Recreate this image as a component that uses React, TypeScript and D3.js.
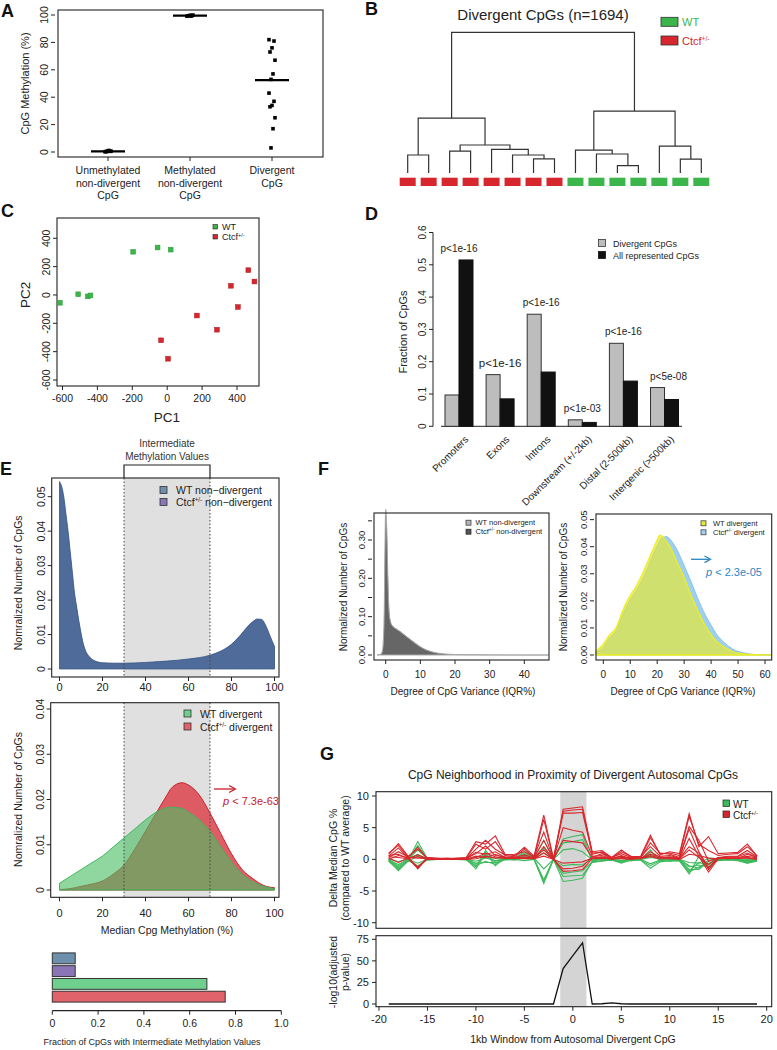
import React from "react";
import * as d3 from "d3";

const FONT = "'Liberation Sans', Arial, Helvetica, sans-serif";
const INK = "#222";

// ---------------- Panel A data ----------------
const aCategories = ["unmethylated", "methylated", "divergent"];
const aCategoryLabels = [
  ["Unmethylated", "non-divergent", "CpG"],
  ["Methylated", "non-divergent", "CpG"],
  ["Divergent", "CpG"],
];
const aUnmethylated = [0.2, 0.5, 0.9, 0.3, 0.6, 1.1, 0.4];
const aMethylated = [99.1, 99.6, 99.8, 99.4, 99.9, 99.2];
const aDivergent = [82, 81, 76, 73, 67, 57, 53, 43, 37, 34, 33, 25, 17, 3];
const aMedians = [0.4, 99.6, 52.5];
const aYTicks = [0, 20, 40, 60, 80, 100];

// ---------------- Panel B data ----------------
const bLeafGroups = ["Ctcf", "Ctcf", "Ctcf", "Ctcf", "Ctcf", "Ctcf", "Ctcf", "Ctcf", "WT", "WT", "WT", "WT", "WT", "WT", "WT"];
type TNode = { h: number; c: (TNode | number)[] };
const bTree: TNode = {
  h: 1.0,
  c: [
    {
      h: 0.39,
      c: [
        { h: 0.128, c: [0, 1] },
        {
          h: 0.199,
          c: [
            { h: 0.156, c: [2, 3] },
            { h: 0.168, c: [4, { h: 0.128, c: [5, { h: 0.101, c: [6, 7] }] }] },
          ],
        },
      ],
    },
    {
      h: 0.44,
      c: [
        { h: 0.163, c: [8, { h: 0.135, c: [9, { h: 0.052, c: [10, 11] }] }] },
        { h: 0.191, c: [12, { h: 0.099, c: [13, 14] }] },
      ],
    },
  ],
};

// ---------------- Panel C data ----------------
const cWT = [[-615, -55], [-510, 5], [-455, -10], [-440, -3], [-195, 305], [-55, 335], [20, 320]];
const cCtcf = [[-35, -320], [5, -450], [170, -145], [285, -245], [365, 65], [405, -85], [465, 175], [500, 95]];
const cXTicks = [-600, -400, -200, 0, 200, 400];
const cYTicks = [-600, -400, -200, 0, 200, 400];

// ---------------- Panel D data ----------------
const dCategories = ["Promoters", "Exons", "Introns", "Downstream (+/-2kb)", "Distal (2-500kb)", "Intergenic (>500kb)"];
const dDivergent = [0.097, 0.16, 0.347, 0.02, 0.257, 0.12];
const dAll = [0.515, 0.085, 0.168, 0.012, 0.14, 0.083];
const dPValues = ["p<1e-16", "p<1e-16", "p<1e-16", "p<1e-03", "p<1e-16", "p<5e-08"];
const dYTicks = [0, 0.1, 0.2, 0.3, 0.4, 0.5, 0.6];

// ---------------- Panel E data ----------------
const eTopX = [0, 1, 2, 3, 4, 5, 6, 7, 8, 9, 10, 11, 12, 14, 16, 18, 20, 25, 30, 40, 50, 60, 70, 75, 80, 84, 87, 90, 92, 94, 96, 98, 100];
const eWTNonDiv = [0.0544, 0.053, 0.05, 0.045, 0.04, 0.034, 0.028, 0.022, 0.018, 0.014, 0.0105, 0.0075, 0.0055, 0.0035, 0.0025, 0.002, 0.0018, 0.0017, 0.0017, 0.0019, 0.0023, 0.0029, 0.004, 0.0052, 0.0072, 0.0097, 0.012, 0.0138, 0.0145, 0.0144, 0.0125, 0.0095, 0.0065];
const eCtcfNonDiv = [0.0542, 0.0528, 0.0498, 0.0448, 0.0398, 0.0338, 0.0279, 0.0219, 0.0179, 0.0139, 0.0104, 0.0075, 0.0055, 0.0035, 0.0025, 0.002, 0.0018, 0.0017, 0.0017, 0.0019, 0.0023, 0.0029, 0.004, 0.0052, 0.0072, 0.0097, 0.012, 0.0138, 0.0145, 0.0144, 0.0125, 0.0095, 0.0065];
const eBotX = [0, 5, 10, 15, 20, 25, 30, 35, 40, 45, 50, 52, 57, 60, 65, 70, 75, 80, 85, 90, 95, 100];
const eWTDiv = [0.0015, 0.003, 0.0045, 0.006, 0.0075, 0.0095, 0.0115, 0.0135, 0.0155, 0.0172, 0.0182, 0.0183, 0.018, 0.0172, 0.0155, 0.013, 0.0095, 0.0062, 0.0035, 0.0018, 0.0008, 0.0003];
const eCtcfDiv = [0.0001, 0.0003, 0.0008, 0.0013, 0.002, 0.0035, 0.0055, 0.009, 0.013, 0.017, 0.021, 0.0225, 0.0237, 0.0232, 0.021, 0.017, 0.0125, 0.008, 0.0045, 0.0025, 0.001, 0.0005];
const eXTicks = [0, 20, 40, 60, 80, 100];
const eTopYTicks = [0, 0.01, 0.02, 0.03, 0.04, 0.05];
const eBotYTicks = [0, 0.01, 0.02, 0.03, 0.04];
const eBarLabels = ["WT non-divergent", "Ctcf non-divergent", "WT divergent", "Ctcf divergent"];
const eBarValues = [0.1, 0.1, 0.675, 0.755];
const eBarTicks = [0, 0.2, 0.4, 0.6, 0.8, 1.0];

// ---------------- Panel F data ----------------
const fLeftX = [-2.5, -1.5, -1, -0.5, 0, 0.3, 0.7, 1, 1.5, 2, 3, 4, 5, 6, 7, 8, 10, 12, 14, 16, 18, 20, 25, 30, 35, 40, 47];
const fWTNonDiv = [0, 0.002, 0.01, 0.08, 0.38, 0.33, 0.18, 0.11, 0.083, 0.075, 0.068, 0.062, 0.055, 0.048, 0.041, 0.034, 0.021, 0.012, 0.0065, 0.0038, 0.002, 0.0012, 0.0005, 0.0002, 0.0001, 0, 0];
const fCtcfNonDiv = [0, 0.001, 0.005, 0.05, 0.37, 0.34, 0.2, 0.12, 0.085, 0.076, 0.069, 0.063, 0.056, 0.049, 0.042, 0.035, 0.022, 0.013, 0.007, 0.004, 0.0022, 0.0013, 0.0005, 0.0002, 0.0001, 0, 0];
const fRightX = [-2.7, 0, 2, 5, 7, 10, 12, 15, 18, 20, 21, 22, 23.5, 25, 27, 30, 33, 35, 38, 40, 42, 45, 48, 52, 56, 62.5];
const fWTDiv = [0.0015, 0.004, 0.007, 0.0105, 0.016, 0.022, 0.025, 0.031, 0.038, 0.0425, 0.0443, 0.0438, 0.0418, 0.0395, 0.035, 0.0285, 0.021, 0.0165, 0.0105, 0.0075, 0.005, 0.0028, 0.0012, 0.0004, 0.0001, 0];
const fCtcfDiv = [0.001, 0.003, 0.006, 0.0095, 0.0145, 0.0205, 0.0235, 0.029, 0.036, 0.0405, 0.0425, 0.0435, 0.0437, 0.0425, 0.0395, 0.033, 0.026, 0.021, 0.0145, 0.011, 0.0077, 0.0045, 0.0022, 0.0008, 0.0002, 0];
const fLeftXTicks = [0, 10, 20, 30, 40];
const fLeftYTicks = [0, 0.05, 0.1, 0.15, 0.2, 0.25, 0.3, 0.35];
const fLeftYLabels = [0, 0.1, 0.2, 0.3];
const fRightXTicks = [0, 10, 20, 30, 40, 50, 60];
const fRightYTicks = [0, 0.01, 0.02, 0.03, 0.04, 0.05];

// ---------------- Panel G data ----------------
const gWindows = [-19, -18, -17, -16, -15, -14, -13, -12, -11, -10, -9, -8, -7, -6, -5, -4, -3, -2, -1, 0, 1, 2, 3, 4, 5, 6, 7, 8, 9, 10, 11, 12, 13, 14, 15, 16, 17, 18, 19];
const gCtcfLines = [
  [0.8, 2.5, 0.5, 1.6, 0.2, 0.1, 0.1, 0.2, 0.3, 2.8, 2.4, 3.7, 0.8, 0.6, 1.9, 0.5, 7.0, 0.1, 7.9, 8.1, 8.3, 1.2, 1.4, 0.3, 1.5, 0.4, 0.5, 3.8, 0.7, 1.2, 0.9, 7.2, 2.0, 3.6, 0.9, 1.0, 1.1, 2.4, 0.5],
  [1.0, 2.2, 0.3, 1.9, 0.1, 0.1, 0.2, 0.1, 0.2, 2.4, 1.6, 2.8, 0.6, 0.4, 1.6, 0.3, 6.3, 0.0, 7.6, 7.8, 7.9, 1.0, 1.1, 0.2, 1.2, 0.5, 0.3, 3.4, 0.9, 1.0, 0.6, 6.8, 2.4, 1.4, 0.6, 0.8, 0.9, 2.0, 0.6],
  [0.5, 1.8, 0.2, -1.2, 0.2, 0.1, 0.0, 0.1, 0.1, 1.6, 3.0, 1.6, 0.7, 0.8, 1.2, 0.4, 4.3, 0.0, 7.3, 7.3, 7.4, 0.8, 1.2, 0.3, 0.9, 0.3, 0.2, 2.6, 1.0, 0.8, 0.3, 5.2, 3.0, -0.3, 0.3, 0.5, 0.5, 1.4, 0.4],
  [0.3, 1.2, 0.4, -1.5, 0.3, 0.2, 0.1, 0.1, 0.2, 0.9, 2.1, 0.6, 0.4, 0.3, 0.7, 0.2, 3.0, 0.0, 5.0, 4.6, 4.3, 0.5, 0.6, 0.1, 0.5, 0.1, 0.4, 2.0, 0.5, 0.6, 0.2, 4.8, 1.2, -1.3, 0.2, 0.4, 0.4, 1.0, 0.3],
  [0.6, 0.8, 0.1, 0.7, 0.1, 0.1, 0.0, 0.0, 0.1, 1.1, 0.8, 1.2, 0.3, 0.2, 0.4, 0.1, 2.0, 0.0, 3.0, 2.8, 2.6, 0.3, 0.9, 0.2, 0.2, 0.2, 0.1, 1.2, 0.3, 0.4, 0.1, 3.3, 0.5, -2.0, 0.1, 0.2, 0.3, 0.5, 0.2],
  [0.2, -0.5, 0.2, 0.4, 0.0, 0.0, 0.0, 0.1, 0.0, 0.5, 0.3, 0.8, 0.2, 0.1, 0.3, 0.1, 1.0, 0.0, -0.6, -0.5, -0.4, 0.2, 0.4, 0.1, 0.6, 0.1, 0.2, 0.6, 0.2, 0.3, 0.2, 2.0, 1.0, -1.6, 0.2, 0.1, 0.2, 0.3, 0.1],
  [0.4, 0.3, 0.1, -1.4, 0.1, 0.0, 0.1, 0.0, 0.1, 0.3, 1.0, 0.4, 0.1, 0.3, 0.2, 0.2, 1.5, 0.0, -1.5, -1.4, -1.1, 0.4, 0.3, 0.0, 0.3, 0.3, 0.1, 0.8, 0.4, 0.2, 0.1, 1.5, 0.3, -0.8, 0.3, 0.3, 0.1, 0.8, 0.3],
  [0.0, 0.6, 0.3, 0.2, 0.2, 0.1, 0.1, 0.1, 0.0, 0.1, 0.5, 0.2, 0.3, 0.2, 0.1, 0.1, 0.5, 0.0, -1.9, -1.8, -1.6, 0.1, 0.2, 0.1, 0.1, 0.0, 0.2, 0.4, 0.1, 0.1, 0.0, 0.8, 0.6, 0.2, 0.1, 0.2, 0.2, 0.2, 0.0],
];
const gWTLines = [
  [-0.2, -1.8, -0.2, 2.8, 0.1, 0.0, 0.0, 0.1, 0.0, -1.5, 1.0, -1.0, 0.3, 0.1, 1.3, 0.3, 3.0, 0.0, 3.2, 3.6, 3.9, -0.3, 0.2, -0.1, 0.3, -0.2, 0.0, 1.5, -0.3, 0.2, -0.2, -2.3, 0.5, -1.5, 0.3, 0.0, 0.1, -0.5, -0.2],
  [-0.1, -1.4, -0.1, 2.2, 0.0, 0.0, 0.1, 0.0, 0.1, -1.2, 1.4, -0.6, 0.2, 0.2, 1.0, 0.2, 1.8, 0.0, 2.6, 2.8, 3.1, -0.2, 0.3, 0.0, -0.2, 0.0, 0.1, 0.9, -0.1, 0.1, -0.1, -1.8, -0.5, -0.9, 0.2, -0.1, 0.1, -0.3, -0.1],
  [0.0, -1.0, 0.0, 1.5, 0.1, 0.1, 0.0, 0.0, 0.0, -0.8, 0.5, -0.3, 0.1, 0.0, 0.6, 0.1, 1.0, 0.0, 1.5, 1.7, 1.2, -0.1, 0.1, 0.0, -0.5, 0.1, 0.0, 0.5, 0.0, 0.0, 0.0, -1.2, -0.9, -1.2, 0.1, 0.0, 0.0, -0.2, 0.0],
  [-0.3, -1.6, -0.3, 0.5, -0.1, 0.0, 0.0, 0.0, -0.1, -1.0, -0.3, -0.8, 0.0, -0.1, 0.2, 0.0, -3.5, 0.0, -2.2, -2.0, -1.8, -0.4, -0.2, -0.1, -0.3, -0.2, -0.1, -1.4, -0.4, -0.2, -0.3, -2.0, -1.2, -0.6, -0.2, -0.1, -0.2, -0.6, -0.3],
  [-0.2, -1.2, -0.2, -1.0, -0.1, 0.0, 0.0, 0.0, 0.0, -0.6, -0.5, -0.5, -0.1, 0.0, -0.2, 0.0, -3.8, 0.0, -2.7, -2.6, -2.5, -0.5, -0.3, -0.1, -0.6, -0.1, -0.1, -1.0, -0.2, -0.3, -0.1, -1.6, -1.6, -0.3, -0.1, 0.0, -0.1, -0.4, -0.2],
  [-0.1, -0.8, 0.0, -0.6, 0.0, 0.0, 0.0, 0.0, 0.0, -0.3, 0.2, -0.2, 0.1, 0.0, 0.4, 0.1, -3.2, 0.0, -3.5, -3.3, -3.0, -0.3, 0.0, 0.0, -0.4, 0.0, 0.0, -0.7, -0.1, -0.1, 0.0, -1.0, -1.4, -0.1, 0.0, 0.1, 0.0, -0.6, -0.1],
  [0.1, -0.4, 0.1, 0.8, 0.0, 0.0, 0.0, 0.0, 0.0, 0.3, 0.6, 0.2, 0.2, 0.1, 0.8, 0.2, -1.5, 0.0, -1.0, -0.8, -0.9, 0.1, 0.2, 0.0, 0.1, 0.1, 0.0, 0.3, 0.1, 0.1, 0.0, -0.5, -0.6, 0.2, 0.1, 0.1, 0.1, 0.0, 0.1],
];
const gPValue = [0, 0, 0, 0, 0, 0, 0, 0, 0, 0, 0, 0, 0, 0, 0, 0, 0, 0, 41, 56, 71, 0, 0.3, 1.2, 0.3, 0, 0, 0, 0, 0, 0, 0, 0, 0, 0, 0, 0, 0, 0];
const gBand = [-1.3, 1.4];
const gXTicks = [-20, -15, -10, -5, 0, 5, 10, 15, 20];
const gTopYTicks = [-10, -5, 0, 5, 10];
const gBotYTicks = [0, 25, 50, 75];

// ---------------- helpers ----------------
type LS = d3.ScaleLinear<number, number>;

function CtcfText({ fs, suffix = "" }: { fs: number; suffix?: string }) {
  const s = fs * 0.38;
  return (
    <>
      Ctcf
      <tspan dy={-s} fontSize={fs * 0.6}>+/-</tspan>
      <tspan dy={s}>{suffix}</tspan>
    </>
  );
}

function LeftAxis({ scale, ticks, labels, x, fs = 10, len = 4, gap = 3, rotate = true, fmt }: {
  scale: LS; ticks: number[]; labels?: number[]; x: number; fs?: number; len?: number; gap?: number; rotate?: boolean; fmt?: (v: number) => string;
}) {
  const lab = labels ?? ticks;
  const f = fmt ?? ((v: number) => String(v));
  return (
    <g>
      {ticks.map((t, i) => (
        <line key={"t" + i} x1={x} x2={x - len} y1={scale(t)} y2={scale(t)} stroke={INK} strokeWidth={1} />
      ))}
      {lab.map((t, i) =>
        rotate ? (
          <text key={"l" + i} transform={`translate(${x - len - gap},${scale(t)}) rotate(-90)`} textAnchor="middle" fontSize={fs} fill={INK}>
            {f(t)}
          </text>
        ) : (
          <text key={"l" + i} x={x - len - gap} y={scale(t)} dy="0.35em" textAnchor="end" fontSize={fs} fill={INK}>
            {f(t)}
          </text>
        )
      )}
    </g>
  );
}

function BottomAxis({ scale, ticks, y, fs = 10, len = 4, labelY, fmt }: {
  scale: LS; ticks: number[]; y: number; fs?: number; len?: number; labelY: number; fmt?: (v: number) => string;
}) {
  const f = fmt ?? ((v: number) => String(v));
  return (
    <g>
      {ticks.map((t, i) => (
        <g key={i}>
          <line x1={scale(t)} x2={scale(t)} y1={y} y2={y + len} stroke={INK} strokeWidth={1} />
          <text x={scale(t)} y={labelY} textAnchor="middle" fontSize={fs} fill={INK}>{f(t)}</text>
        </g>
      ))}
    </g>
  );
}

function areaPath(xs: number[], ys: number[], x: LS, y: LS) {
  const pts = xs.map((v, i) => [v, ys[i]] as [number, number]);
  return (
    d3
      .area<[number, number]>()
      .x((d) => x(d[0]))
      .y0(y(0))
      .y1((d) => y(d[1]))
      .curve(d3.curveMonotoneX)(pts) || ""
  );
}

function Box({ l, r, t, b }: { l: number; r: number; t: number; b: number }) {
  return <rect x={l} y={t} width={r - l} height={b - t} fill="none" stroke={INK} strokeWidth={1.1} />;
}

function Label({ x, y, ch }: { x: number; y: number; ch: string }) {
  return (
    <text x={x} y={y} fontSize={18} fontWeight="bold" fill="#111">
      {ch}
    </text>
  );
}

// ---------------- Panels ----------------
function PanelA() {
  const box = { l: 58, r: 323, t: 10, b: 157 };
  const x = d3.scalePoint<string>().domain(aCategories).range([108, 272]);
  const y = d3.scaleLinear().domain([0, 100]).range([152, 15]);
  const groups = [aUnmethylated, aMethylated, aDivergent];
  const jit = (i: number) => ((i * 5) % 7) - 3;
  return (
    <g>
      <Label x={1} y={17} ch="A" />
      <Box {...box} />
      <LeftAxis scale={y} ticks={aYTicks} x={box.l - 3} fs={10.5} gap={3.5} />
      <text transform={`translate(29,${(y(0) + y(100)) / 2}) rotate(-90)`} textAnchor="middle" fontSize={11} fill={INK}>
        CpG Methylation (%)
      </text>
      {aCategories.map((c, ci) => (
        <g key={c}>
          <line x1={x(c)!} x2={x(c)!} y1={box.b} y2={box.b + 4} stroke={INK} />
          {aCategoryLabels[ci].map((ln, li) => (
            <text key={li} x={x(c)!} y={174 + li * 12.5} textAnchor="middle" fontSize={10.5} fill={INK}>
              {ln}
            </text>
          ))}
          {groups[ci].map((v, i) => (
            <rect key={i} x={x(c)! + jit(i) - 1.8} y={y(v) - 1.8} width={3.6} height={3.6} fill="#000" />
          ))}
          <line x1={x(c)! - 17} x2={x(c)! + 17} y1={y(aMedians[ci])} y2={y(aMedians[ci])} stroke="#000" strokeWidth={2.2} />
        </g>
      ))}
    </g>
  );
}

function PanelB() {
  const xs = d3.scalePoint<number>().domain(bLeafGroups.map((_, i) => i)).range([407.7, 701.3]);
  const hy = d3.scaleLinear().domain([0, 1]).range([173, 32.3]);
  const segs: string[] = [];
  const layout = (n: TNode | number): { x: number; y: number } => {
    if (typeof n === "number") return { x: xs(n)!, y: hy(0) };
    const k = n.c.map(layout);
    const yy = hy(n.h);
    segs.push(`M${k[0].x},${k[0].y}V${yy}H${k[1].x}V${k[1].y}`);
    return { x: (k[0].x + k[1].x) / 2, y: yy };
  };
  layout(bTree);
  const col = (g: string) => (g === "WT" ? "#3cb54a" : "#d7262e");
  return (
    <g>
      <Label x={365} y={15} ch="B" />
      <text x={543} y={20} textAnchor="middle" fontSize={15} fill="#222">Divergent CpGs (n=1694)</text>
      {segs.map((d, i) => (
        <path key={i} d={d} fill="none" stroke="#333" strokeWidth={1.2} />
      ))}
      {bLeafGroups.map((g, i) => (
        <rect key={i} x={xs(i)! - 8} y={177.7} width={16} height={8.3} fill={col(g)} />
      ))}
      <rect x={661} y={17.3} width={17} height={9} fill="#3cb54a" stroke="#333" strokeWidth={0.8} />
      <text x={682} y={26} fontSize={11} fill="#3cb54a">WT</text>
      <rect x={661} y={36} width={17} height={9} fill="#d7262e" stroke="#333" strokeWidth={0.8} />
      <text x={682} y={45} fontSize={11} fill="#d7262e"><CtcfText fs={11} /></text>
    </g>
  );
}

function PanelC() {
  const box = { l: 57, r: 259, t: 218, b: 386 };
  const x = d3.scaleLinear().domain([-600, 400]).range([62.5, 237]);
  const y = d3.scaleLinear().domain([-600, 400]).range([380, 238.3]);
  return (
    <g>
      <Label x={1} y={217} ch="C" />
      <Box {...box} />
      <LeftAxis scale={y} ticks={cYTicks} x={box.l} fs={10.5} gap={3.5} />
      <BottomAxis scale={x} ticks={cXTicks} y={box.b} labelY={401.5} fs={10.5} />
      <text x={167} y={422} textAnchor="middle" fontSize={13.5} fill={INK}>PC1</text>
      <text transform={`translate(30,${y(0)}) rotate(-90)`} textAnchor="middle" fontSize={13.5} fill={INK}>PC2</text>
      {cWT.map((p, i) => (
        <rect key={"w" + i} x={x(p[0]) - 2.4} y={y(p[1]) - 2.4} width={4.8} height={4.8} fill="#3cb54a" stroke="#2a9a3a" strokeWidth={0.5} />
      ))}
      {cCtcf.map((p, i) => (
        <rect key={"c" + i} x={x(p[0]) - 2.4} y={y(p[1]) - 2.4} width={4.8} height={4.8} fill="#d7262e" stroke="#a81a20" strokeWidth={0.5} />
      ))}
      <rect x={213} y={224.5} width={4.5} height={4.5} fill="#3cb54a" stroke="#222" strokeWidth={0.6} />
      <text x={222} y={230} fontSize={9} fill={INK}>WT</text>
      <rect x={213} y={234.5} width={4.5} height={4.5} fill="#d7262e" stroke="#222" strokeWidth={0.6} />
      <text x={222} y={240} fontSize={9} fill={INK}><CtcfText fs={9} /></text>
    </g>
  );
}

function PanelD() {
  const y = d3.scaleLinear().domain([0, 0.6]).range([426.3, 232.5]);
  const xb = d3.scaleBand<string>().domain(dCategories).range([445, 678.5]).paddingInner(0.319).paddingOuter(0);
  const bw = xb.bandwidth() / 2;
  return (
    <g>
      <Label x={365} y={220} ch="D" />
      <line x1={433} x2={433} y1={y(0)} y2={y(0.6)} stroke={INK} />
      <LeftAxis scale={y} ticks={dYTicks} x={433} fs={10} gap={3.5} />
      <text transform={`translate(407,332) rotate(-90)`} textAnchor="middle" fontSize={11} fill={INK}>Fraction of CpGs</text>
      <line x1={441} x2={682} y1={y(0)} y2={y(0)} stroke={INK} />
      {dCategories.map((c, i) => {
        const x0 = xb(c)!;
        const top = Math.max(dDivergent[i], dAll[i]);
        return (
          <g key={c}>
            <rect x={x0} y={y(dDivergent[i])} width={bw} height={y(0) - y(dDivergent[i])} fill="#bdbdbd" stroke="#333" strokeWidth={1} />
            <rect x={x0 + bw} y={y(dAll[i])} width={bw} height={y(0) - y(dAll[i])} fill="#111" stroke="#111" strokeWidth={1} />
            <text x={x0 + bw + (i === 5 ? 4 : 0)} y={y(top) - 8} textAnchor="middle" fontSize={i === 1 ? 11.5 : 10} fill={INK}>
              {dPValues[i]}
            </text>
            <text transform={`translate(${x0 + bw + 10},${440}) rotate(-45)`} textAnchor="end" fontSize={10} fill={INK}>
              {c}
            </text>
          </g>
        );
      })}
      <rect x={598.5} y={239.5} width={7} height={7} fill="#bdbdbd" stroke="#333" strokeWidth={0.8} />
      <text x={613} y={246.5} fontSize={9} fill={INK}>Divergent CpGs</text>
      <rect x={598.5} y={251.5} width={7} height={7} fill="#111" stroke="#111" strokeWidth={0.8} />
      <text x={613} y={258.5} fontSize={9} fill={INK}>All represented CpGs</text>
    </g>
  );
}

function PanelE() {
  const boxT = { l: 51.7, r: 279, t: 478, b: 677 };
  const boxB = { l: 50.7, r: 279, t: 702.7, b: 897.3 };
  const x = d3.scaleLinear().domain([0, 100]).range([59.5, 274.5]);
  const yT = d3.scaleLinear().domain([0, 0.05]).range([669, 496.7]);
  const yB = d3.scaleLinear().domain([0, 0.04]).range([890, 709]);
  const xBar = d3.scaleLinear().domain([0, 1]).range([52.3, 281.3]);
  const yBar = d3.scaleBand<string>().domain(eBarLabels).range([951, 1004]).padding(0.15);
  const barColors = ["#6f90ad", "#8a76b6", "#6fd08e", "#e0626b"];
  const fmt2 = (v: number) => (v === 0 ? "0" : v.toFixed(2));
  return (
    <g>
      <Label x={0} y={475} ch="E" />
      {/* bracket */}
      <path d={`M${x(30)},${boxT.t}V465H${x(70)}V${boxT.t}`} fill="none" stroke={INK} strokeWidth={1.2} />
      <text x={x(50)} y={447} textAnchor="middle" fontSize={10} fill="#333">Intermediate</text>
      <text x={x(50)} y={459.5} textAnchor="middle" fontSize={10} fill="#333">Methylation Values</text>
      {/* top plot */}
      <rect x={x(30)} y={boxT.t} width={x(70) - x(30)} height={boxT.b - boxT.t} fill="#e0e0e0" />
      <path d={areaPath(eTopX, eCtcfNonDiv, x, yT)} fill="#7a6cb0" />
      <path d={areaPath(eTopX, eWTNonDiv, x, yT)} fill="#4a6a98" fillOpacity={0.93} stroke="#3c5a88" strokeWidth={0.8} />
      {[30, 70].map((v) => (
        <line key={v} x1={x(v)} x2={x(v)} y1={boxT.t} y2={boxT.b} stroke="#444" strokeDasharray="1.5,2" strokeWidth={1} />
      ))}
      <Box {...boxT} />
      <LeftAxis scale={yT} ticks={eTopYTicks} x={boxT.l} fs={10.5} gap={3} fmt={fmt2} />
      <BottomAxis scale={x} ticks={eXTicks} y={boxT.b} labelY={691} fs={11} />
      <text transform={`translate(22,${yT(0.025)}) rotate(-90)`} textAnchor="middle" fontSize={10.5} fill={INK}>Nomralized Number of CpGs</text>
      <rect x={160} y={486.5} width={7} height={7} fill="#6f90ad" stroke="#333" strokeWidth={0.8} />
      <text x={176} y={493.8} fontSize={10.5} fill={INK}>WT non−divergent</text>
      <rect x={160} y={498.5} width={7} height={7} fill="#8a76b6" stroke="#333" strokeWidth={0.8} />
      <text x={176} y={505.8} fontSize={10.5} fill={INK}><CtcfText fs={10.5} suffix=" non−divergent" /></text>

      {/* bottom plot */}
      <rect x={x(30)} y={boxB.t} width={x(70) - x(30)} height={boxB.b - boxB.t} fill="#e0e0e0" />
      <path d={areaPath(eBotX, eCtcfDiv, x, yB)} fill="#dc5059" fillOpacity={0.92} stroke="#c8202a" strokeWidth={1} />
      <path d={areaPath(eBotX, eWTDiv, x, yB)} fill="#4bbe64" fillOpacity={0.62} stroke="#3cb85a" strokeWidth={1} />
      {[30, 70].map((v) => (
        <line key={v} x1={x(v)} x2={x(v)} y1={boxB.t} y2={boxB.b} stroke="#444" strokeDasharray="1.5,2" strokeWidth={1} />
      ))}
      <Box {...boxB} />
      <LeftAxis scale={yB} ticks={eBotYTicks} x={boxB.l} fs={10.5} gap={3} fmt={fmt2} />
      <BottomAxis scale={x} ticks={eXTicks} y={boxB.b} labelY={917} fs={11} />
      <text x={x(50)} y={933.5} textAnchor="middle" fontSize={10.5} fill={INK}>Median Cpg Methylation (%)</text>
      <text transform={`translate(22,${yB(0.02)}) rotate(-90)`} textAnchor="middle" fontSize={10.5} fill={INK}>Nomralized Number of CpGs</text>
      <rect x={184} y={710} width={7} height={7} fill="#6fd08e" stroke="#333" strokeWidth={0.8} />
      <text x={200} y={717.5} fontSize={10.5} fill={INK}>WT divergent</text>
      <rect x={184} y={723} width={7} height={7} fill="#e0626b" stroke="#333" strokeWidth={0.8} />
      <text x={200} y={730.5} fontSize={10.5} fill={INK}><CtcfText fs={10.5} suffix=" divergent" /></text>
      <line x1={214} x2={234} y1={789} y2={789} stroke="#c8202a" strokeWidth={1.3} />
      <path d="M229,785.5L235.5,789L229,792.5" fill="none" stroke="#c8202a" strokeWidth={1.3} />
      <text x={223} y={805} fontSize={11} fill="#c8202a"><tspan fontStyle="italic">p</tspan> &lt; 7.3e-63</text>

      {/* bar chart */}
      {eBarLabels.map((l, i) => (
        <rect key={l} x={xBar(0)} y={yBar(l)!} width={xBar(eBarValues[i]) - xBar(0)} height={yBar.bandwidth()} fill={barColors[i]} stroke="#333" strokeWidth={1} />
      ))}
      <line x1={xBar(0)} x2={xBar(1)} y1={1010.7} y2={1010.7} stroke={INK} strokeWidth={1.2} />
      <BottomAxis scale={xBar} ticks={eBarTicks} y={1010.7} labelY={1027} fs={10.5} fmt={(v) => (v === 0 ? "0" : v.toFixed(1))} />
      <text x={152} y={1045} textAnchor="middle" fontSize={9} fill={INK}>Fraction of CpGs with Intermediate Methylation Values</text>
    </g>
  );
}

function PanelF() {
  const boxL = { l: 374, r: 549, t: 513, b: 660 };
  const boxR = { l: 596, r: 771.7, t: 514, b: 660 };
  const xL = d3.scaleLinear().domain([0, 40]).range([385.7, 524.3]);
  const yL = d3.scaleLinear().domain([0, 0.3]).range([655, 540]);
  const xR = d3.scaleLinear().domain([0, 60]).range([603.3, 765]);
  const yR = d3.scaleLinear().domain([0, 0.04]).range([655, 546.7]);
  const fmt2 = (v: number) => v.toFixed(2);
  return (
    <g>
      <Label x={318} y={475} ch="F" />
      {/* left */}
      <path d={areaPath(fLeftX, fWTNonDiv, xL, yL)} fill="#b5b5b5" />
      <path d={areaPath(fLeftX, fCtcfNonDiv, xL, yL)} fill="#666" />
      <path d={areaPath(fLeftX, fWTNonDiv, xL, yL)} fill="none" stroke="#aaa" strokeWidth={1} />
      <Box {...boxL} />
      <LeftAxis scale={yL} ticks={fLeftYTicks} labels={fLeftYLabels} x={boxL.l - 2} fs={9.5} gap={3.5} fmt={fmt2} />
      <BottomAxis scale={xL} ticks={fLeftXTicks} y={boxL.b} labelY={678} fs={10} />
      <text x={463} y={694.5} textAnchor="middle" fontSize={10} fill={INK}>Degree of CpG Variance (IQR%)</text>
      <text transform={`translate(347,587) rotate(-90)`} textAnchor="middle" fontSize={10} fill={INK}>Normalized Number of CpGs</text>
      <rect x={466} y={520.2} width={5} height={5} fill="#b5b5b5" stroke="#333" strokeWidth={0.7} />
      <text x={475.5} y={525.3} fontSize={7.5} fill={INK}>WT non-divergent</text>
      <rect x={466} y={529.2} width={5} height={5} fill="#555" stroke="#222" strokeWidth={0.7} />
      <text x={475.5} y={534.3} fontSize={7.5} fill={INK}><CtcfText fs={7.5} suffix=" non-divergent" /></text>

      {/* right */}
      <path d={areaPath(fRightX, fCtcfDiv, xR, yR)} fill="#9fd0ef" stroke="#86c2ea" strokeWidth={1} />
      <path d={areaPath(fRightX, fWTDiv, xR, yR)} fill="#e8e832" fillOpacity={0.68} stroke="#eeee22" strokeWidth={1.3} />
      <Box {...boxR} />
      <LeftAxis scale={yR} ticks={fRightYTicks} x={boxR.l - 2} fs={9.5} gap={3.5} fmt={fmt2} />
      <BottomAxis scale={xR} ticks={fRightXTicks} y={boxR.b} labelY={678} fs={10} />
      <text x={683} y={694.5} textAnchor="middle" fontSize={10} fill={INK}>Degree of CpG Variance (IQR%)</text>
      <text transform={`translate(567,587) rotate(-90)`} textAnchor="middle" fontSize={10} fill={INK}>Normalized Number of CpGs</text>
      <rect x={701} y={520.8} width={5} height={5} fill="#e8e832" stroke="#333" strokeWidth={0.7} />
      <text x={713} y={525.9} fontSize={7.5} fill={INK}>WT divergent</text>
      <rect x={701} y={529.8} width={5} height={5} fill="#9fd0ef" stroke="#333" strokeWidth={0.7} />
      <text x={713} y={534.9} fontSize={7.5} fill={INK}><CtcfText fs={7.5} suffix=" divergent" /></text>
      <line x1={691} x2={709} y1={559.3} y2={559.3} stroke="#2a86c4" strokeWidth={1.3} />
      <path d="M704.5,556L710.5,559.3L704.5,562.6" fill="none" stroke="#2a86c4" strokeWidth={1.3} />
      <text x={706} y={575.5} fontSize={11} fill="#2a86c4"><tspan fontStyle="italic">p</tspan> &lt; 2.3e-05</text>
    </g>
  );
}

function PanelG() {
  const boxT = { l: 376, r: 771.7, t: 791.7, b: 928.3 };
  const boxB = { l: 376, r: 771.7, t: 935.7, b: 1006.7 };
  const x = d3.scaleLinear().domain([-20, 20]).range([379, 766.7]);
  const yT = d3.scaleLinear().domain([-10, 10]).range([922.7, 796]);
  const yB = d3.scaleLinear().domain([0, 75]).range([1004, 939.3]);
  const lineT = d3.line<number>().x((_, i) => x(gWindows[i])).y((d) => yT(d));
  const lineB = d3.line<number>().x((_, i) => x(gWindows[i])).y((d) => yB(d));
  return (
    <g>
      <Label x={320} y={760} ch="G" />
      <text x={573} y={778.5} textAnchor="middle" fontSize={12} fill={INK}>CpG Neighborhood in Proximity of Divergent Autosomal CpGs</text>
      <rect x={x(gBand[0])} y={boxT.t} width={x(gBand[1]) - x(gBand[0])} height={boxT.b - boxT.t} fill="#d4d4d4" />
      <rect x={x(gBand[0])} y={boxB.t} width={x(gBand[1]) - x(gBand[0])} height={boxB.b - boxB.t} fill="#d4d4d4" />
      {gWTLines.map((l, i) => (
        <path key={"w" + i} d={lineT(l) || ""} fill="none" stroke="#3dba5c" strokeWidth={1.1} />
      ))}
      {gCtcfLines.map((l, i) => (
        <path key={"c" + i} d={lineT(l) || ""} fill="none" stroke="#d9262c" strokeWidth={1.1} />
      ))}
      <path d={lineB(gPValue) || ""} fill="none" stroke="#111" strokeWidth={1.3} />
      <Box {...boxT} />
      <Box {...boxB} />
      <LeftAxis scale={yT} ticks={gTopYTicks} x={boxT.l} fs={11} gap={3} rotate={false} />
      <LeftAxis scale={yB} ticks={gBotYTicks} x={boxB.l} fs={11} gap={3} rotate={false} />
      <BottomAxis scale={x} ticks={gXTicks} y={boxB.b} labelY={1023} fs={11} />
      <text x={573} y={1043} textAnchor="middle" fontSize={10.5} fill={INK}>1kb Window from Autosomal Divergent CpG</text>
      <text transform={`translate(337,858) rotate(-90)`} textAnchor="middle" fontSize={10.5} fill={INK}>Delta Median CpG %</text>
      <text transform={`translate(349,858) rotate(-90)`} textAnchor="middle" fontSize={10.5} fill={INK}>(compared to WT average)</text>
      <text transform={`translate(337,972) rotate(-90)`} textAnchor="middle" fontSize={10.5} fill={INK}>-log10(adjusted</text>
      <text transform={`translate(349,972) rotate(-90)`} textAnchor="middle" fontSize={10.5} fill={INK}>p-value)</text>
      <rect x={723} y={800} width={6.5} height={6.5} fill="#3dba5c" stroke="#222" strokeWidth={0.7} />
      <text x={733} y={807.5} fontSize={10} fill={INK}>WT</text>
      <rect x={723} y={811} width={6.5} height={6.5} fill="#d9262c" stroke="#222" strokeWidth={0.7} />
      <text x={733} y={818.5} fontSize={10} fill={INK}><CtcfText fs={10} /></text>
    </g>
  );
}

export default function App() {
  return (
    <svg
      width={777}
      height={1050}
      viewBox="0 0 777 1050"
      style={{ position: "absolute", left: 0, top: 0, background: "#fff" }}
      fontFamily={FONT}
    >
      <rect width={777} height={1050} fill="#fff" />
      <PanelA />
      <PanelB />
      <PanelC />
      <PanelD />
      <PanelE />
      <PanelF />
      <PanelG />
    </svg>
  );
}
